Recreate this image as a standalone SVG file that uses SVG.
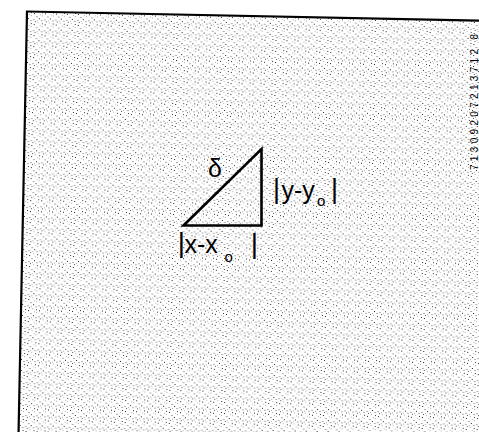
<svg xmlns="http://www.w3.org/2000/svg" width="479" height="432" viewBox="0 0 479 432">
<style>
.lbl{font-family:"Liberation Sans",Arial,sans-serif;fill:#000}
.bar{font-family:"Liberation Sans",Arial,sans-serif;fill:#000;text-anchor:middle}
.edge{fill:none;stroke:#000;stroke-width:2.6;stroke-linejoin:miter}
</style>
<defs>
<pattern id="stip" width="11" height="11" patternUnits="userSpaceOnUse">
<rect x="1" y="2" width="1" height="1" fill="#222"/>
<rect x="6" y="7" width="1" height="1" fill="#222"/>
<rect x="9" y="1" width="1" height="1" fill="#333"/>
<rect x="3" y="5" width="2" height="1" fill="#aaa"/>
<rect x="5" y="0" width="1" height="1" fill="#b0b0b0"/>
<rect x="9" y="4" width="1" height="1" fill="#aaa"/>
<rect x="0" y="8" width="2" height="1" fill="#b0b0b0"/>
<rect x="4" y="9" width="1" height="1" fill="#aaa"/>
<rect x="7" y="3" width="1" height="1" fill="#b5b5b5"/>
<rect x="2" y="10" width="1" height="1" fill="#555"/>
<rect x="8" y="9" width="2" height="1" fill="#b0b0b0"/>
</pattern>
</defs>
<rect width="479" height="432" fill="#fff"/>
<g id="sheet" transform="rotate(1.15 27 11.5)">
<rect x="27" y="11.5" width="480" height="425" fill="url(#stip)" stroke="#000" stroke-width="2.2"/>
</g>
<g id="serial">
<text class="lbl" transform="translate(477.5 170) rotate(-90)" font-size="10" textLength="136">71309207213712 8</text>
</g>
<g id="connectors">
<polygon id="triangle" class="edge" points="183.5,225.5 261.5,149 261.5,225.5"/>
</g>
<g id="delta">
<text class="lbl" x="215" y="177" font-size="25" text-anchor="middle">δ</text>
</g>
<g id="label-y">
<text class="bar" x="276.5" y="198" font-size="27">|</text>
<text class="lbl" x="281.5" y="199" font-size="25">y-y</text>
<text class="lbl" x="317" y="206" font-size="15">o</text>
<text class="bar" x="334.5" y="198" font-size="27">|</text>
</g>
<g id="label-x">
<text class="bar" x="181.5" y="252" font-size="28">|</text>
<text class="lbl" x="184.5" y="253" font-size="25">x-x</text>
<text class="lbl" x="224.5" y="262" font-size="15">o</text>
<text class="bar" x="254.5" y="253" font-size="28">|</text>
</g>
</svg>
